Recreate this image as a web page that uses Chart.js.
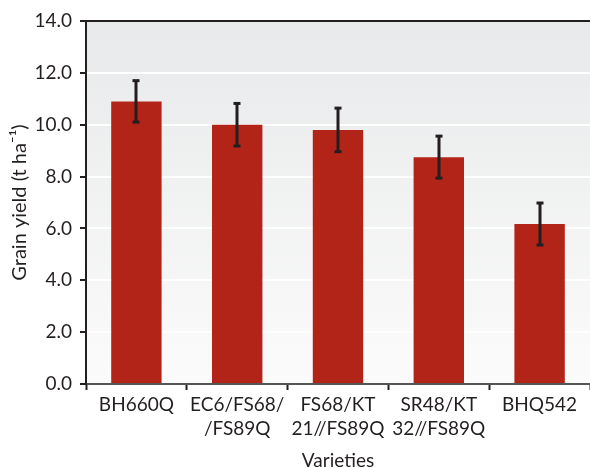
<!DOCTYPE html>
<html>
<head>
<meta charset="utf-8">
<script src="https://cdn.jsdelivr.net/npm/chart.js@4/dist/chart.umd.min.js"></script>
<style>
  html, body { margin: 0; padding: 0; background: #ffffff; }
  #wrap { width: 590px; height: 468px; }
</style>
</head>
<body>
<div id="wrap"><canvas id="c" width="590" height="468"></canvas></div>
<script>
// Grain yield by variety, with error bars
const varieties = [
  ["BH660Q"],
  ["EC6/FS68/", "/FS89Q"],
  ["FS68/KT", "21//FS89Q"],
  ["SR48/KT", "32//FS89Q"],
  ["BHQ542"]
];
const grainYield = [10.9, 10.0, 9.8, 8.75, 6.17];
const yieldError = [0.8, 0.82, 0.84, 0.81, 0.81];
const yTicks = [0, 2, 4, 6, 8, 10, 12, 14];

const DARK = '#231f20';
const TEXT = '#231f20';
const FONT = 'Lato, "Open Sans", sans-serif';

// Soft vertical gradient behind the plot plus a dark top border
const plotBackground = {
  id: 'plotBackground',
  beforeDraw(chart) {
    const { ctx, chartArea: a } = chart;
    const g = ctx.createLinearGradient(0, a.top, 0, a.bottom);
    g.addColorStop(0, '#e8e9ea');
    g.addColorStop(1, '#fbfbfb');
    ctx.save();
    ctx.fillStyle = g;
    ctx.fillRect(a.left, a.top, a.right - a.left, a.bottom - a.top);
    ctx.restore();
  },
  afterDraw(chart) {
    const { ctx, chartArea: a } = chart;
    ctx.save();
    ctx.strokeStyle = DARK;
    ctx.lineWidth = 2;
    ctx.beginPath();
    ctx.moveTo(a.left, a.top);
    ctx.lineTo(a.right, a.top);
    ctx.stroke();
    ctx.restore();
  }
};

// Error bars drawn through the y scale
const errorBars = {
  id: 'errorBars',
  afterDatasetsDraw(chart) {
    const { ctx } = chart;
    const y = chart.scales.y;
    const meta = chart.getDatasetMeta(0);
    ctx.save();
    ctx.fillStyle = DARK;
    meta.data.forEach((bar, i) => {
      const v = grainYield[i];
      const e = yieldError[i];
      const yt = y.getPixelForValue(v + e);
      const yb = y.getPixelForValue(v - e);
      const x = Math.round(bar.x);
      ctx.fillRect(x - 1.5, yt, 3, yb - yt);
      ctx.fillRect(x - 3.5, yt - 1.5, 7, 3);
      ctx.fillRect(x - 3.5, yb - 1.5, 7, 3);
    });
    ctx.restore();
  }
};

new Chart(document.getElementById('c'), {
  type: 'bar',
  data: {
    labels: varieties,
    datasets: [{
      data: grainYield,
      backgroundColor: '#b22418',
      borderWidth: 0,
      categoryPercentage: 0.5,
      barPercentage: 1.0
    }]
  },
  options: {
    responsive: false,
    animation: false,
    devicePixelRatio: 1,
    layout: { padding: { top: 21, right: 0, left: 0, bottom: 0 } },
    plugins: {
      legend: { display: false },
      tooltip: { enabled: false }
    },
    scales: {
      x: {
        offset: true,
        grid: {
          offset: true,
          drawOnChartArea: false,
          drawTicks: true,
          tickLength: 6,
          tickColor: DARK,
          tickWidth: 2
        },
        border: { display: true, color: '#555555', width: 2 },
        ticks: {
          color: TEXT,
          font: { family: FONT, size: 19, lineHeight: 1.25 },
          padding: 3,
          maxRotation: 0,
          autoSkip: false
        },
        title: {
          display: true,
          text: 'Varieties',
          color: TEXT,
          font: { family: FONT, size: 19, lineHeight: 0.8 },
          padding: { top: 0, bottom: 0 }
        },
        afterFit(scale) { scale.height = 84; }
      },
      y: {
        min: 0,
        max: 14,
        afterBuildTicks(scale) { scale.ticks = yTicks.map(v => ({ value: v })); },
        grid: {
          color: '#ffffff',
          lineWidth: 2,
          drawTicks: true,
          tickLength: 6,
          tickColor: DARK,
          tickWidth: 2
        },
        border: { display: true, color: DARK, width: 2 },
        ticks: {
          color: TEXT,
          font: { family: FONT, size: 19 },
          padding: 8,
          callback: v => Number(v).toFixed(1)
        },
        title: {
          display: true,
          text: 'Grain yield (t ha\u207B\u00B9)',
          color: TEXT,
          font: { family: FONT, size: 20 },
          padding: { top: 8, bottom: 0 }
        },
        afterFit(scale) { scale.width = 86; }
      }
    }
  },
  plugins: [plotBackground, errorBars]
});
</script>
</body>
</html>
